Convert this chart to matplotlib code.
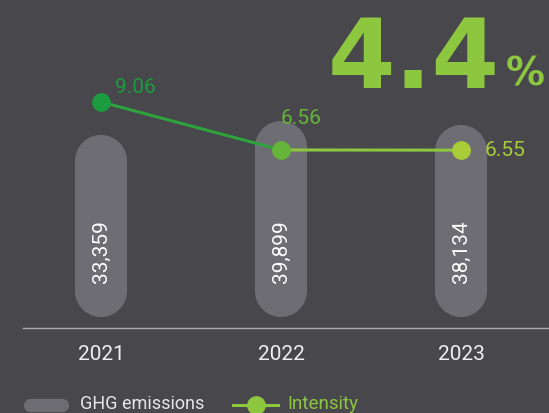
import matplotlib.pyplot as plt
import numpy as np

# données
annees = ['2021', '2022', '2023']
emissions = [33359, 39899, 38134]
emissions_txt = ['33,359', '39,899', '38,134']
intensite = [9.06, 6.56, 6.55]
intensite_txt = ['9.06', '6.56', '6.55']
variation = '4.4'

fond = '#48474c'
gris_barre = '#6e6d73'
couleurs_pts = ['#1c9b40', '#66b43a', '#a8cd38']
couleurs_seg = ['#2ea23c', '#8cc63f']
vert_clair = '#8dc63f'

plt.rcParams['font.family'] = ['Roboto', 'DejaVu Sans']

W, H = 549, 413
fig = plt.figure(figsize=(W / 100, H / 100), dpi=100)
fig.patch.set_facecolor(fond)

# axe principal : intensité
ax = fig.add_axes([0, 0, 1, 1])
ax.set_facecolor(fond)
x = np.arange(len(annees))
ax.set_xlim(-101 / 180, (W - 101) / 180)
ax.set_ylim(-7.14, 14.37)
ax.axis('off')

# deuxième axe : émissions (barres arrondies)
ax2 = fig.add_axes([0, 0, 1, 1], sharex=ax)
ax2.patch.set_visible(False)
ax2.axis('off')
base = -27371
ax2.set_ylim(base - 122 * 467, base + 291 * 467)
for xi, v in zip(x, emissions):
    ax2.plot([xi, xi], [base, v], color=gris_barre, lw=37.5,
             solid_capstyle='round', zorder=1)

ax.set_zorder(ax2.get_zorder() + 1)
ax.patch.set_visible(False)

for xi, t in zip(x, emissions_txt):
    ax.text(xi, 1 - 252 / H, t, transform=ax.get_xaxis_transform(),
            rotation=90, ha='center', va='center', color='white', fontsize=15)

# courbe d'intensité
for i in range(len(x) - 1):
    ax.plot(x[i:i + 2], intensite[i:i + 2], color=couleurs_seg[i], lw=2.2, zorder=3)
for xi, v, c in zip(x, intensite, couleurs_pts):
    ax.plot(xi, v, 'o', ms=12.5, color=c, zorder=4)

ax.annotate(intensite_txt[0], (x[0], intensite[0]), xytext=(14, 5),
            textcoords='offset pixels', color=couleurs_pts[0], fontsize=15,
            ha='left', va='bottom')
ax.annotate(intensite_txt[1], (x[1], intensite[1]), xytext=(0, 22),
            textcoords='offset pixels', color=couleurs_pts[1], fontsize=15,
            ha='left', va='bottom')
ax.annotate(intensite_txt[2], (x[2], intensite[2]), xytext=(24, 0),
            textcoords='offset pixels', color=couleurs_pts[2], fontsize=15,
            ha='left', va='center')

# ligne de base et années
ax.plot([-0.433, 2.489], [1 - 328 / H] * 2, transform=ax.get_xaxis_transform(),
        color='#a9a9ab', lw=1, clip_on=False)
for xi, a in zip(x, annees):
    ax.text(xi, 1 - 355 / H, a, transform=ax.get_xaxis_transform(),
            ha='center', va='center', color='#f0f0f0', fontsize=15)

# grand chiffre
fig.text(500 / W, 1 - 88 / H, variation, ha='right', va='baseline',
         color=vert_clair, fontsize=70, fontweight='bold', family='DejaVu Sans')
fig.text(506 / W, 1 - 85 / H, '%', ha='left', va='baseline',
         color=vert_clair, fontsize=28, fontweight='bold', family='DejaVu Sans')

# légende
fig.add_artist(plt.Line2D([30 / W, 62 / W], [1 - 404.5 / H] * 2, color=gris_barre,
                          lw=9.5, solid_capstyle='round'))
fig.text(80 / W, 1 - 404 / H, 'GHG emissions', ha='left', va='center',
         color='#e6e6e6', fontsize=13)
fig.add_artist(plt.Line2D([233 / W, 278 / W], [1 - 405 / H] * 2, color=vert_clair, lw=2.2))
fig.add_artist(plt.Line2D([256 / W], [1 - 405 / H], marker='o', ms=12.5,
                          color=vert_clair))
fig.text(287 / W, 1 - 404 / H, 'Intensity', ha='left', va='center',
         color=vert_clair, fontsize=13.5)

fig.savefig('out.png', dpi=100, facecolor=fond)
